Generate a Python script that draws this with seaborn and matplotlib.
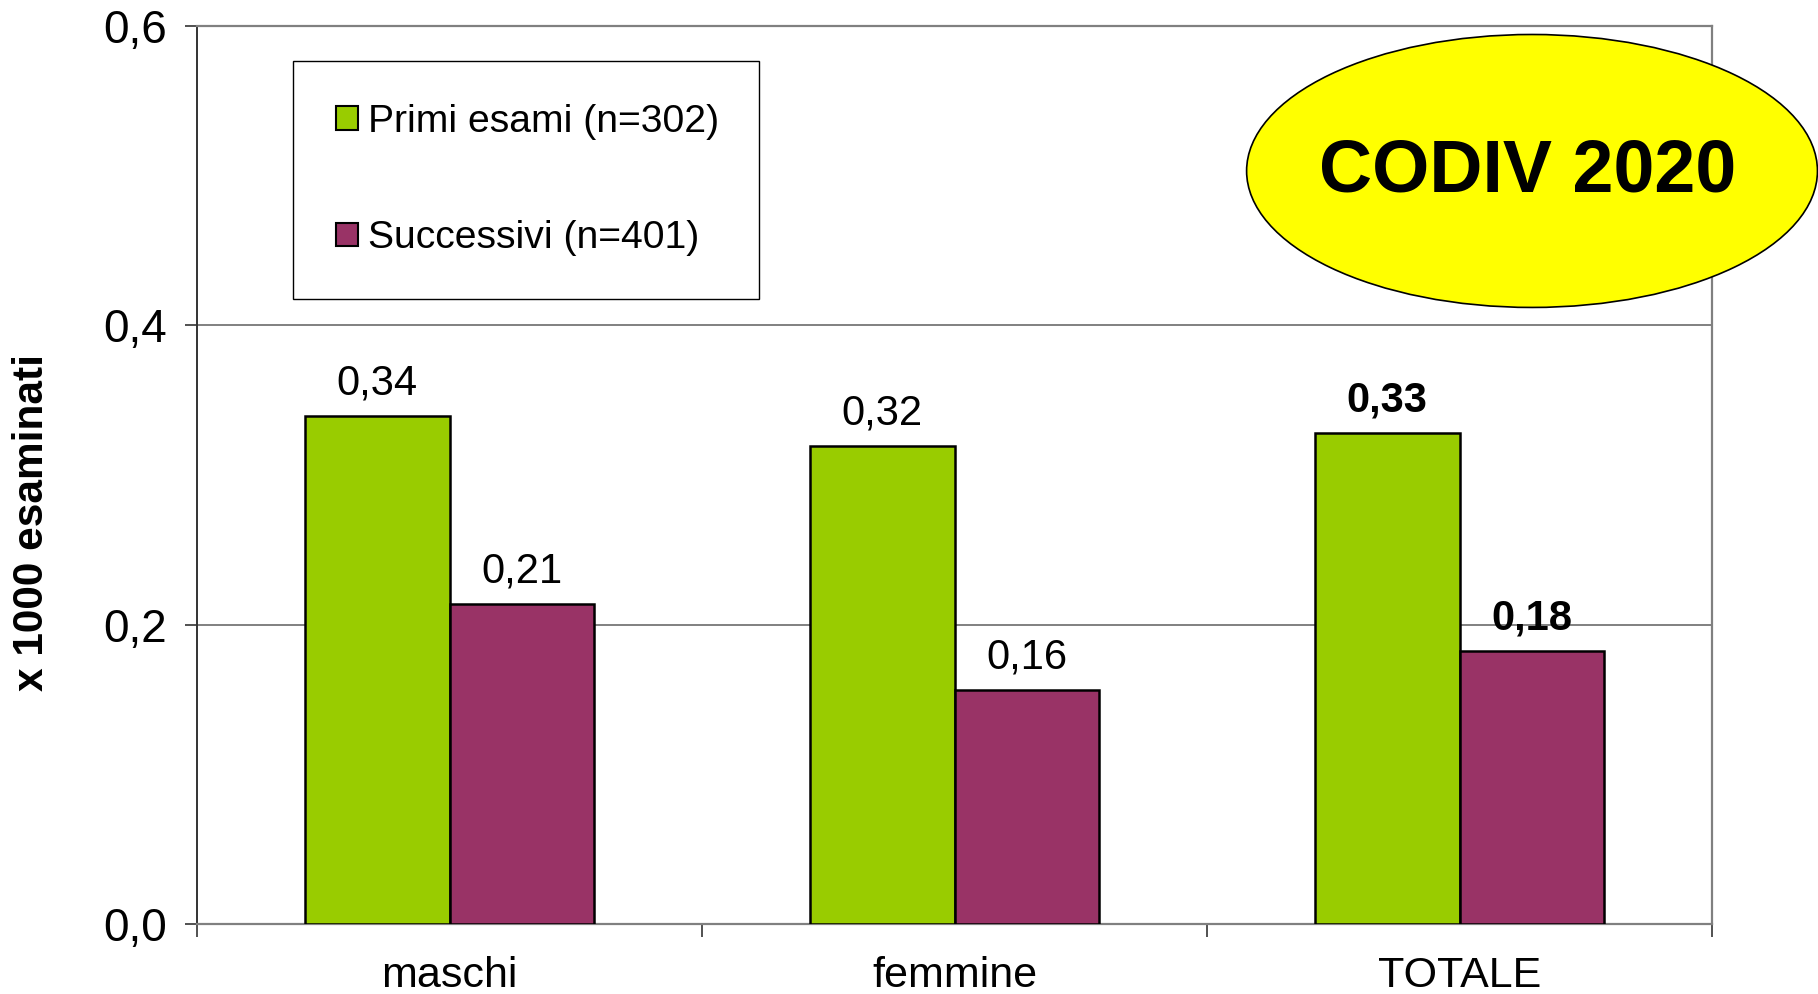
import matplotlib
matplotlib.use("Agg")
import matplotlib.pyplot as plt
from matplotlib.patches import Ellipse, Patch
from matplotlib.ticker import FixedLocator, FuncFormatter
import seaborn as sns
import pandas as pd

# Data
categories = ["maschi", "femmine", "TOTALE"]
series_names = ["Primi esami (n=302)", "Successivi (n=401)"]
primi_values = [0.339, 0.319, 0.328]
successivi_values = [0.214, 0.156, 0.182]
y_ticks = [0.0, 0.2, 0.4, 0.6]

colors = ["#99CC00", "#993366"]

sns.set_theme(style="white")
plt.rcParams["font.family"] = ["Liberation Sans", "DejaVu Sans"]
plt.rcParams["text.color"] = "black"
plt.rcParams["axes.labelcolor"] = "black"

df = pd.DataFrame({
    "categoria": categories * 2,
    "serie": [series_names[0]] * 3 + [series_names[1]] * 3,
    "valore": primi_values + successivi_values,
})

fig = plt.figure(figsize=(18.18, 9.94), dpi=100)
ax = fig.add_axes([0.1084, 0.0704, 0.8333, 0.9039])

sns.barplot(data=df, x="categoria", y="valore", hue="serie", order=categories,
            hue_order=series_names, palette=colors, width=0.574, gap=0,
            edgecolor="black", linewidth=1.8, saturation=1, ax=ax, legend=False,
            errorbar=None, zorder=3)

ax.set_xlim(-0.5, 2.5)
ax.set_ylim(0, 0.6)
ax.yaxis.set_major_locator(FixedLocator(y_ticks))
ax.yaxis.set_major_formatter(FuncFormatter(lambda v, p: f"{v:.1f}".replace(".", ",")))
ax.grid(axis="y", color="#808080", linewidth=1.4, zorder=0)
ax.set_axisbelow(True)

for side in ["top", "right", "bottom"]:
    ax.spines[side].set_color("#808080")
    ax.spines[side].set_linewidth(1.6)
ax.spines["left"].set_color("#333333")
ax.spines["left"].set_linewidth(1.4)

ax.tick_params(axis="y", which="major", left=True, length=9, width=1.2,
               color="#333333", labelsize=33, pad=13)
ax.tick_params(axis="x", which="major", bottom=False, labelsize=31, pad=17)
ax.set_xticks([-0.5, 0.5, 1.5, 2.5], minor=True)
ax.tick_params(axis="x", which="minor", bottom=True, length=9, width=1.2,
               color="#333333")
for lbl in ax.get_yticklabels() + ax.get_xticklabels():
    lbl.set_color("black")

ax.set_xlabel("")
ax.set_ylabel("x 1000 esaminati", fontsize=30.5, fontweight="bold",
              color="black")
ax.yaxis.set_label_coords(-0.0957, 0.447)

# Value labels above each bar
for s_idx, container in enumerate(ax.containers):
    for c_idx, bar in enumerate(container):
        val = bar.get_height()
        bold = categories[c_idx] == "TOTALE"
        ax.annotate(f"{val:.2f}".replace(".", ","),
                    (bar.get_x() + bar.get_width() / 2, val),
                    xytext=(0, 9), textcoords="offset points",
                    ha="center", va="bottom", fontsize=30,
                    fontweight="bold" if bold else "normal", color="black")

# Legend
handles = [Patch(facecolor=c, edgecolor="black", linewidth=1.5) for c in colors]
leg = ax.legend(handles, series_names, loc="upper left",
                bbox_to_anchor=(0.0634, 0.9605, 0.3076, 0.0), mode="expand",
                fontsize=28.2, frameon=True, fancybox=False, framealpha=1,
                edgecolor="black", borderpad=1.1, labelspacing=2.05,
                handlelength=0.55, handleheight=0.55, handletextpad=0.25,
                borderaxespad=0, labelcolor="black")
leg.get_frame().set_linewidth(1.0)
leg.set_zorder(5)

# Badge
badge = Ellipse((0.8427, 0.828), 0.314, 0.2746, transform=fig.transFigure,
                facecolor="#FFFF00", edgecolor="black", linewidth=1.2,
                zorder=10, clip_on=False)
fig.add_artist(badge)
fig.text(0.8405, 0.827, "CODIV 2020", fontsize=53, fontweight="bold",
         ha="center", va="center", color="black", zorder=11)

fig.savefig("out.png", dpi=100, facecolor="white")
